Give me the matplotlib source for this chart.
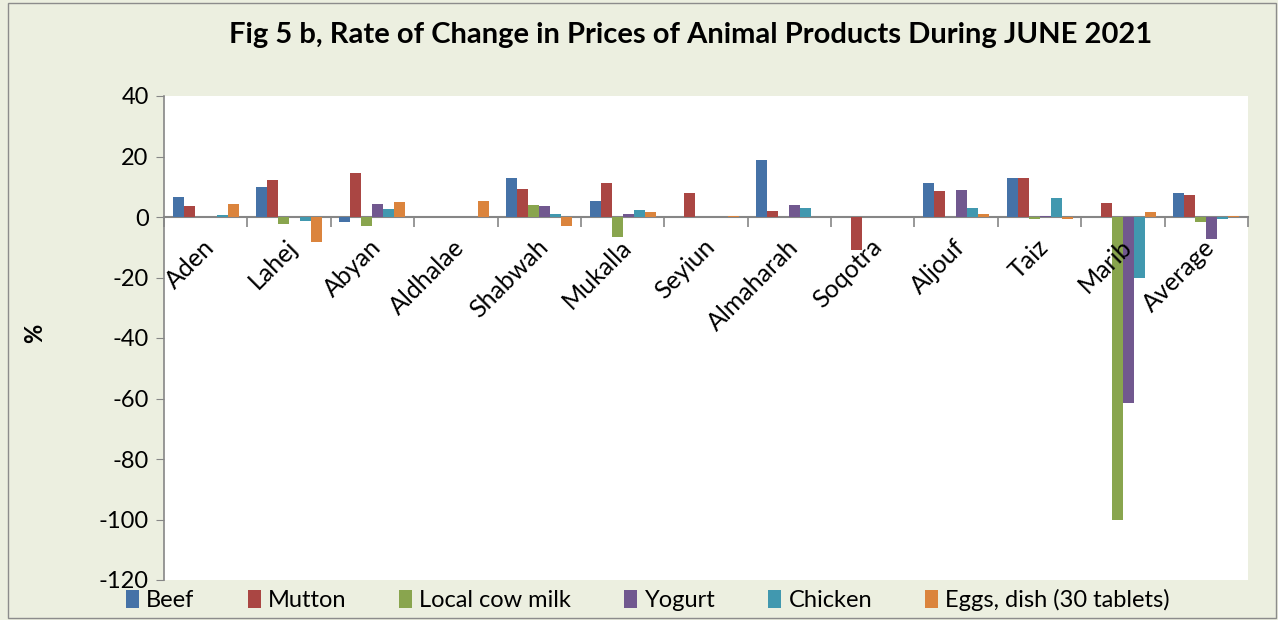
import matplotlib
matplotlib.use("Agg")
import matplotlib.pyplot as plt
import numpy as np
from matplotlib.patches import Rectangle

categories = ["Aden", "Lahej", "Abyan", "Aldhalae", "Shabwah", "Mukalla", "Seyiun",
              "Almaharah", "Soqotra", "Aljouf", "Taiz", "Marib", "Average"]
series_names = ["Beef", "Mutton", "Local cow milk", "Yogurt", "Chicken", "Eggs, dish (30 tablets)"]
beef    = [6.5, 9.8, -1.8, 0, 12.8, 5.4, 0, 19.0, 0, 11.4, 13.0, 0, 8.0]
mutton  = [3.5, 12.3, 14.5, 0, 9.3, 11.2, 8.0, 2.1, -10.9, 8.6, 12.8, 4.6, 7.2]
milk    = [0, -2.4, -3.1, 0, 4.1, -6.5, 0, 0, 0, 0, -0.8, -100, -1.5]
yogurt  = [0, 0, 4.3, 0, 3.7, 1.0, 0, 4.1, 0, 9.0, 0.3, -61.5, -7.4]
chicken = [0.7, -1.2, 2.5, 0, 1.1, 2.4, 0, 3.1, 0, 2.9, 6.4, -20.3, -0.5]
eggs    = [4.3, -8.3, 5.0, 5.3, -2.9, 1.8, 0.3, 0, 0, 1.0, -0.5, 1.8, 0.4]
yticks = [40, 20, 0, -20, -40, -60, -80, -100, -120]

colors = ["#4572A7", "#AA4643", "#89A54E", "#71588F", "#4198AF", "#DB843D"]
series = [beef, mutton, milk, yogurt, chicken, eggs]

W, H = 1278, 620
fig = plt.figure(figsize=(W / 100, H / 100), dpi=100)
fig.patch.set_facecolor("#ECEFE0")
fig.patches.append(Rectangle((8 / W, 2 / H), 1268 / W, 615 / H, transform=fig.transFigure,
                             fill=False, edgecolor="#8C8C8C", linewidth=1.0))

ax = fig.add_axes([164 / W, 1 - 580 / H, (1248 - 164) / W, (580 - 96) / H])
ax.set_facecolor("white")
font = "Lato"

x = np.arange(len(categories))
bw = 0.132
for k, (vals, c, name) in enumerate(zip(series, colors, series_names)):
    ax.bar(x + (k - 2.5) * bw, vals, width=bw, color=c, edgecolor="none",
           label=name, zorder=3)

ax.set_xlim(-0.5, len(categories) - 0.5)
ax.set_ylim(-120, 40)
ax.set_yticks(yticks)
ax.set_yticklabels([str(v) for v in yticks], fontsize=17, family=font)
ax.tick_params(axis="y", direction="out", length=6, color="#868686", pad=5)

for s in ["top", "right"]:
    ax.spines[s].set_visible(False)
ax.spines["left"].set_color("#868686")
ax.spines["left"].set_linewidth(1.2)
ax.spines["bottom"].set_position(("data", 0))
ax.spines["bottom"].set_color("#868686")
ax.spines["bottom"].set_linewidth(1.5)
ax.set_xticks(np.arange(len(categories) + 1) - 0.5)
ax.set_xticklabels([])
ax.tick_params(axis="x", direction="out", length=7, color="#868686", width=1.2)

for i, name in enumerate(categories):
    ax.text(i - 0.04, -6.0, name, rotation=45, ha="right", va="top", rotation_mode="anchor",
            fontsize=18, family=font, zorder=5)

ax.set_ylabel("%", fontsize=17, fontweight="bold", family=font)
ax.yaxis.set_label_coords((46 - 164) / 1084, (580 - 333) / 484)

fig.text(691 / W, 1 - 35 / H, "Fig 5 b, Rate of Change in Prices of Animal Products During JUNE 2021",
         ha="center", va="center", fontsize=21, fontweight="bold", family=font)

handles, labels = ax.get_legend_handles_labels()
leg = fig.legend(handles, labels, loc="center", bbox_to_anchor=(648 / W, 1 - 600 / H), ncol=6,
                 frameon=False, prop={"family": font, "size": 17}, handlelength=0.55,
                 handleheight=0.8, handletextpad=0.3, columnspacing=2.25, borderpad=0)

fig.savefig("out.png", dpi=100, facecolor=fig.get_facecolor())
